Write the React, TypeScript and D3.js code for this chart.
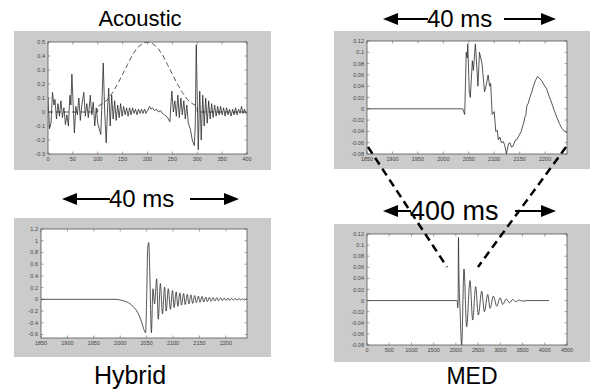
import React from "react";
import * as d3 from "d3";

type Pt = [number, number];

// Acoustic: measured signal (solid) and analysis window (dashed)
const acousticSignal: Pt[] = [
  [0, 0.1], [3, -0.12], [6, -0.08], [9, 0.14], [12, 0.05], [14, 0.09], [17, -0.05], [20, 0.06],
  [23, -0.03], [26, 0.08], [29, -0.04], [32, 0.03], [35, -0.09], [38, -0.02], [41, -0.1], [44, 0.12],
  [46, 0.05], [48, 0.27], [50, 0.1], [53, -0.15], [56, 0.04], [59, -0.02], [62, 0.1], [65, -0.06],
  [68, 0.05], [72, 0.14], [75, -0.03], [78, 0.06], [81, -0.04], [85, 0.12], [88, -0.02], [91, 0.07],
  [94, -0.1], [97, 0.03], [100, -0.08], [103, -0.12], [106, -0.16], [108, 0.02], [111, 0.35], [114, 0.0],
  [117, -0.22], [120, 0.04], [122, 0.17], [125, -0.1], [128, 0.12], [131, -0.05], [134, 0.08], [137, -0.06],
  [140, 0.05], [143, -0.04], [146, 0.06], [149, -0.03], [152, 0.04], [155, -0.02], [158, 0.03], [161, -0.03],
  [164, 0.03], [167, -0.02], [170, 0.03], [173, -0.01], [176, 0.02], [179, -0.02], [182, 0.02], [185, -0.01],
  [188, 0.02], [191, -0.01], [194, 0.02], [197, -0.01], [200, 0.01], [204, 0.04], [207, 0.02], [210, 0.03],
  [214, 0.01], [218, 0.02], [222, 0.0], [226, 0.01], [230, -0.01], [234, -0.02], [238, -0.03], [242, -0.05],
  [245, -0.07], [247, 0.05], [249, 0.15], [252, 0.0], [255, 0.08], [258, -0.03], [261, 0.12], [264, -0.04],
  [267, 0.1], [270, -0.02], [273, 0.08], [276, -0.05], [279, 0.05], [282, -0.08], [286, -0.12], [290, -0.2],
  [294, -0.24], [296, -0.1], [298, 0.48], [300, 0.1], [302, -0.27], [305, 0.15], [308, -0.2], [311, 0.12],
  [314, -0.1], [317, 0.1], [320, -0.08], [323, 0.08], [326, -0.05], [329, 0.06], [332, -0.04], [335, 0.05],
  [338, -0.03], [341, 0.04], [344, -0.02], [347, 0.04], [350, -0.02], [353, 0.03], [356, -0.03], [359, 0.03],
  [362, -0.02], [365, 0.02], [368, -0.03], [371, 0.02], [374, -0.02], [377, 0.03], [380, -0.02], [383, 0.02],
  [386, -0.01], [389, 0.04], [392, -0.01], [395, 0.02], [398, -0.01], [400, 0.0],
];
const acousticWindow: Pt[] = [
  [0, 0], [100, 0], [100, 0.04], [110, 0.06], [120, 0.09], [130, 0.14], [140, 0.2], [150, 0.27],
  [160, 0.34], [170, 0.41], [180, 0.46], [190, 0.49], [200, 0.5], [210, 0.49], [220, 0.46], [230, 0.41],
  [240, 0.34], [250, 0.27], [260, 0.2], [270, 0.14], [280, 0.09], [290, 0.06], [300, 0.04], [300, 0], [400, 0],
];
const acousticXTicks = [0, 50, 100, 150, 200, 250, 300, 350, 400];
const acousticYTicks = [-0.3, -0.2, -0.1, 0, 0.1, 0.2, 0.3, 0.4, 0.5];

// MED, 40 ms detail
const medZoomSignal: Pt[] = [
  [1850, 0], [2038, 0], [2042, -0.01], [2045, 0.1], [2047, 0.09], [2048, 0.115], [2051, 0.03], [2053, 0.02],
  [2057, 0.085], [2059, 0.068], [2063, 0.115], [2068, 0.04], [2071, 0.1], [2076, 0.08], [2081, 0.03],
  [2085, 0.045], [2088, 0.06], [2091, 0.04], [2093, 0.045], [2096, -0.01], [2100, -0.005], [2103, -0.04],
  [2106, -0.038], [2108, -0.055], [2111, -0.05], [2114, -0.06], [2118, -0.058], [2121, -0.066], [2124, -0.08],
  [2128, -0.062], [2131, -0.06], [2134, -0.068], [2137, -0.066], [2141, -0.056], [2144, -0.055], [2147, -0.05],
  [2150, -0.045], [2153, -0.04], [2156, -0.03], [2158, -0.025], [2160, -0.015], [2162, -0.012], [2164, 0.005],
  [2167, 0.01], [2170, 0.02], [2174, 0.03], [2177, 0.04], [2181, 0.05], [2185, 0.057], [2189, 0.054],
  [2193, 0.05], [2198, 0.042], [2203, 0.035], [2208, 0.022], [2213, 0.01], [2218, -0.003], [2223, -0.015],
  [2228, -0.026], [2233, -0.035], [2238, -0.04], [2243, -0.042],
];
const zoomXTicks = [1850, 1900, 1950, 2000, 2050, 2100, 2150, 2200];
const medYTicks = [-0.08, -0.06, -0.04, -0.02, 0, 0.02, 0.04, 0.06, 0.08, 0.1, 0.12];

// Hybrid
const hybridSignal: Pt[] = [
  [1850, 0], [1990, 0], [2000, -0.01], [2008, -0.03], [2016, -0.06], [2024, -0.12], [2030, -0.18],
  [2036, -0.28], [2041, -0.4], [2045, -0.52], [2048, -0.57], [2050, 0.0], [2052, 0.87], [2054, 0.97],
  [2056, 0.44], [2059, -0.57], [2062, 0.18], [2065, -0.08], [2069, 0.35], [2072, -0.34], [2076, 0.27],
  [2080, -0.25], [2084, 0.21], [2087, -0.2], [2091, 0.18], [2095, -0.17], [2099, 0.15], [2102, -0.14],
  [2106, 0.13], [2109, -0.12], [2113, 0.11], [2116, -0.1], [2120, 0.1], [2123, -0.09], [2127, 0.085],
  [2130, -0.08], [2134, 0.075], [2137, -0.07], [2141, 0.065], [2144, -0.06], [2148, 0.055], [2151, -0.05],
  [2155, 0.05], [2158, -0.045], [2162, 0.04], [2165, -0.04], [2169, 0.035], [2172, -0.035], [2176, 0.03],
  [2179, -0.03], [2183, 0.028], [2186, -0.026], [2190, 0.025], [2193, -0.023], [2197, 0.022], [2200, -0.02],
  [2204, 0.02], [2207, -0.018], [2211, 0.017], [2214, -0.016], [2218, 0.015], [2221, -0.014], [2225, 0.014],
  [2228, -0.013], [2232, 0.012], [2235, -0.012], [2239, 0.01], [2242, 0],
];
const hybridYTicks = [-0.6, -0.4, -0.2, 0, 0.2, 0.4, 0.6, 0.8, 1, 1.2];

// MED, full 400 ms
const medSignal: Pt[] = [
  [0, 0], [2030, 0], [2040, -0.013], [2050, 0.0], [2058, 0.114], [2066, 0.06], [2095, -0.02], [2130, -0.08],
  [2182, 0.057], [2242, -0.047], [2317, 0.036], [2378, -0.035], [2445, 0.025], [2505, -0.026], [2581, 0.017],
  [2641, -0.02], [2716, 0.011], [2769, -0.014], [2844, 0.008], [2919, -0.01], [2995, 0.005], [3055, -0.007],
  [3130, 0.003], [3205, -0.004], [3280, 0.002], [3350, -0.002], [3420, 0.001], [3500, -0.001], [3600, 0],
  [4096, 0],
];
const medXTicks = [0, 500, 1000, 1500, 2000, 2500, 3000, 3500, 4000, 4500];

const FONT = "'Liberation Sans', Arial, sans-serif";
const fmt = (v: number) => String(Math.round(v * 100) / 100);

type Series = { data: Pt[]; dashed?: boolean; smooth?: boolean };

const Panel = ({ id, bg, frame, xDomain, yDomain, xTicks, yTicks, series }: any) => {
  const x = d3.scaleLinear().domain(xDomain).range([frame.x0, frame.x1]);
  const y = d3.scaleLinear().domain(yDomain).range([frame.y1, frame.y0]);
  const tl = 2.5;
  return (
    <g>
      <rect x={bg.x0} y={bg.y0} width={bg.x1 - bg.x0} height={bg.y1 - bg.y0} fill="#cbcbcb" />
      <rect x={frame.x0} y={frame.y0} width={frame.x1 - frame.x0} height={frame.y1 - frame.y0} fill="#fff" />
      <clipPath id={id}>
        <rect x={frame.x0} y={frame.y0} width={frame.x1 - frame.x0} height={frame.y1 - frame.y0} />
      </clipPath>
      {xTicks.map((t: number) => (
        <g key={"x" + t} stroke="#666" strokeWidth={0.6}>
          <line x1={x(t)} x2={x(t)} y1={frame.y1} y2={frame.y1 - tl} />
          <line x1={x(t)} x2={x(t)} y1={frame.y0} y2={frame.y0 + tl} />
        </g>
      ))}
      {yTicks.map((t: number) => (
        <g key={"y" + t} stroke="#666" strokeWidth={0.6}>
          <line x1={frame.x0} x2={frame.x0 + tl} y1={y(t)} y2={y(t)} />
          <line x1={frame.x1} x2={frame.x1 - tl} y1={y(t)} y2={y(t)} />
        </g>
      ))}
      <g clipPath={`url(#${id})`}>
        {series.map((s: Series, i: number) => {
          const line = d3
            .line<Pt>()
            .x((d) => x(d[0]))
            .y((d) => y(d[1]))
            .curve(s.smooth ? d3.curveMonotoneX : d3.curveLinear);
          return (
            <path
              key={i}
              d={line(s.data) || ""}
              fill="none"
              stroke="#2a2a2a"
              strokeWidth={0.8}
              strokeDasharray={s.dashed ? "5,3" : undefined}
              strokeLinejoin="round"
            />
          );
        })}
      </g>
      <rect x={frame.x0} y={frame.y0} width={frame.x1 - frame.x0} height={frame.y1 - frame.y0} fill="none" stroke="#555" strokeWidth={0.8} />
      <g fontFamily={FONT} fontSize={5.5} fill="#444">
        {xTicks.map((t: number) => (
          <text key={"xl" + t} x={x(t)} y={frame.y1 + 7} textAnchor="middle">
            {fmt(t)}
          </text>
        ))}
        {yTicks.map((t: number) => (
          <text key={"yl" + t} x={frame.x0 - 3} y={y(t) + 2} textAnchor="end">
            {fmt(t)}
          </text>
        ))}
      </g>
    </g>
  );
};

const SpanArrow = ({ tipL, lineL, textX, label, size, lineR0, tipR, y, baseline }: any) => {
  const head = 15;
  const hh = 6;
  return (
    <g>
      <polygon points={`${tipL},${y} ${tipL + head},${y - hh} ${tipL + head},${y + hh}`} fill="#000" />
      <line x1={tipL + head} x2={lineL} y1={y} y2={y} stroke="#000" strokeWidth={2} />
      <text x={textX} y={baseline} fontFamily={FONT} fontSize={size} fill="#000">
        {label}
      </text>
      <line x1={lineR0} x2={tipR - head} y1={y} y2={y} stroke="#000" strokeWidth={2} />
      <polygon points={`${tipR},${y} ${tipR - head},${y - hh} ${tipR - head},${y + hh}`} fill="#000" />
    </g>
  );
};

export default function App() {
  return (
    <svg width={590} height={389} style={{ position: "absolute", left: 0, top: 0, background: "#fff" }}>
      <Panel
        id="clipA"
        bg={{ x0: 14, x1: 271, y0: 31, y1: 170 }}
        frame={{ x0: 48, x1: 247, y0: 42, y1: 154 }}
        xDomain={[0, 400]}
        yDomain={[-0.3, 0.5]}
        xTicks={acousticXTicks}
        yTicks={acousticYTicks}
        series={[{ data: acousticWindow, dashed: true }, { data: acousticSignal }]}
      />
      <Panel
        id="clipB"
        bg={{ x0: 334, x1: 590, y0: 31, y1: 169 }}
        frame={{ x0: 367, x1: 567, y0: 41, y1: 154 }}
        xDomain={[1850, 2243]}
        yDomain={[-0.08, 0.12]}
        xTicks={zoomXTicks}
        yTicks={medYTicks}
        series={[{ data: medZoomSignal }]}
      />
      <Panel
        id="clipC"
        bg={{ x0: 14, x1: 271, y0: 218, y1: 357 }}
        frame={{ x0: 41, x1: 247, y0: 229, y1: 338 }}
        xDomain={[1850, 2240]}
        yDomain={[-0.66, 1.2]}
        xTicks={zoomXTicks}
        yTicks={hybridYTicks}
        series={[{ data: hybridSignal, smooth: true }]}
      />
      <Panel
        id="clipD"
        bg={{ x0: 334, x1: 590, y0: 224, y1: 362 }}
        frame={{ x0: 367, x1: 567, y0: 234, y1: 345 }}
        xDomain={[0, 4500]}
        yDomain={[-0.08, 0.12]}
        xTicks={medXTicks}
        yTicks={medYTicks}
        series={[{ data: medSignal, smooth: true }]}
      />

      <text x={140} y={26} textAnchor="middle" fontFamily={FONT} fontSize={22}>
        Acoustic
      </text>
      <text x={130} y={384} textAnchor="middle" fontFamily={FONT} fontSize={25}>
        Hybrid
      </text>
      <text x={472} y={384} textAnchor="middle" fontFamily={FONT} fontSize={23}>
        MED
      </text>

      <SpanArrow tipL={383} lineL={428} textX={427} label="40 ms" size={24} lineR0={504} tipR={556} y={19} baseline={27} />
      <SpanArrow tipL={62} lineL={110} textX={109} label="40 ms" size={24} lineR0={190} tipR={239} y={199} baseline={207} />
      <SpanArrow tipL={383} lineL={411} textX={410} label="400 ms" size={27} lineR0={515} tipR={556} y={211} baseline={220} />

      <g stroke="#000" strokeWidth={2.5} strokeDasharray="8,5">
        <line x1={368} y1={147} x2={447} y2={267} />
        <line x1={566} y1={147} x2={478} y2={267} />
      </g>
    </svg>
  );
}
